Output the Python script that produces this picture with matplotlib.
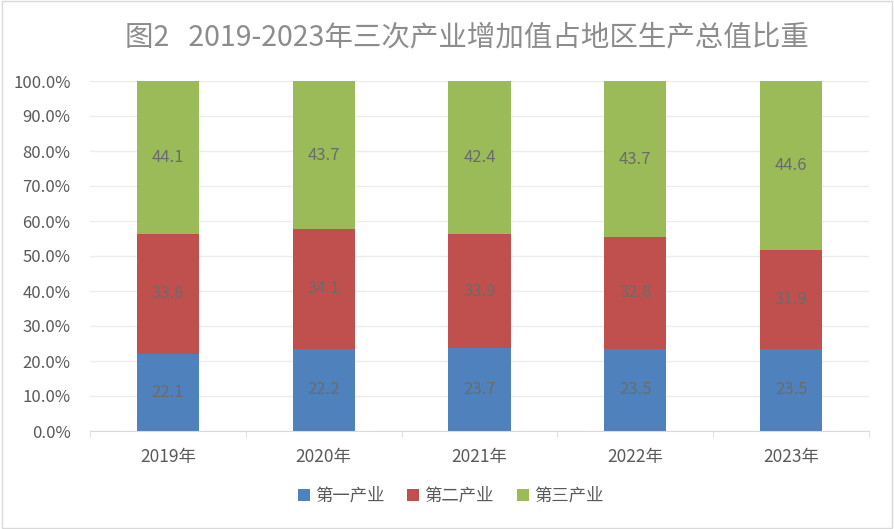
import numpy as np
import matplotlib
matplotlib.use("Agg")
import matplotlib.pyplot as plt
from matplotlib.patches import Rectangle

plt.rcParams['font.family'] = ['Noto Sans CJK SC', 'DejaVu Sans']

years = ["2019年", "2020年", "2021年", "2022年", "2023年"]
series_names = ["第一产业", "第二产业", "第三产业"]
# printed data labels
label_primary = [22.1, 22.2, 23.7, 23.5, 23.5]
label_secondary = [33.8, 34.1, 33.9, 32.8, 31.9]
label_tertiary = [44.1, 43.7, 42.4, 43.7, 44.6]
# segment heights (%)
share_primary = [22.1, 23.5, 23.6, 23.5, 23.5]
share_secondary = [34.2, 34.2, 32.7, 31.9, 28.3]
share_tertiary = [100 - a - b for a, b in zip(share_primary, share_secondary)]
colors = ["#4f81bd", "#c0504d", "#9bbb59"]

labels = [label_primary, label_secondary, label_tertiary]
shares = np.array([share_primary, share_secondary, share_tertiary])

fig = plt.figure(figsize=(8.94, 5.29), dpi=100)
fig.patches.append(Rectangle((0.002, 0.002), 0.996, 0.996, transform=fig.transFigure,
                             fill=False, edgecolor="#d9d9d9", linewidth=1))
ax = fig.add_axes([90 / 894, 1 - 431 / 529, 779 / 894, 350 / 529])

x = np.arange(len(years))
bottom = np.zeros(len(years))
for i in range(3):
    ax.bar(x, shares[i], bottom=bottom, width=0.4, color=colors[i], label=series_names[i], zorder=2)
    for j in range(len(years)):
        ax.text(x[j], bottom[j] + shares[i][j] / 2, f"{labels[i][j]:.1f}", ha="center", va="center",
                fontsize=12, color="#6b6b6b", zorder=3)
    bottom += shares[i]

ax.set_xlim(-0.5, len(years) - 0.5)
ax.set_ylim(0, 100)
ax.set_yticks(np.arange(0, 101, 10))
ax.set_yticklabels([f"{v:.1f}%" for v in np.arange(0, 101, 10)])
ax.yaxis.grid(True, color="#ececec", linewidth=1, zorder=0)
ax.set_xticks(x)
ax.set_xticklabels(years)
ax.set_xticks(np.arange(-0.5, len(years), 1), minor=True)
ax.tick_params(axis="x", which="major", length=0, pad=12, labelsize=12.5, labelcolor="#595959")
ax.tick_params(axis="x", which="minor", length=4, color="#d9d9d9")
ax.tick_params(axis="y", length=0, pad=14, labelsize=12, labelcolor="#595959")
for s in ["top", "right", "left"]:
    ax.spines[s].set_visible(False)
ax.spines["bottom"].set_color("#d9d9d9")

fig.text(467 / 894, 1 - 37 / 529, "图2   2019-2023年三次产业增加值占地区生产总值比重", ha="center", va="center",
         fontsize=20.5, color="#8c8c8c")

ax.legend(loc="center", bbox_to_anchor=(0.463, -0.185), ncol=3, frameon=False, fontsize=12.5,
          handlelength=0.7, handleheight=0.7, columnspacing=1.3, handletextpad=0.3,
          labelcolor="#595959")

fig.savefig("out.png", dpi=100)
